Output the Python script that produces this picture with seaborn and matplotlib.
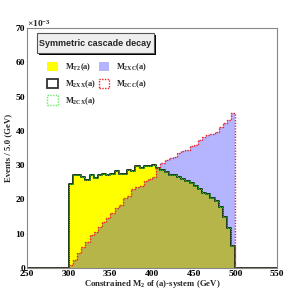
import numpy as np
import matplotlib
matplotlib.use("Agg")
import matplotlib.pyplot as plt
from matplotlib.patches import Patch, Rectangle
from matplotlib.ticker import MultipleLocator
import seaborn as sns

# bin left edges (GeV), 5 GeV bins
bin_lo = [300, 305, 310, 315, 320, 325, 330, 335, 340, 345,
          350, 355, 360, 365, 370, 375, 380, 385, 390, 395,
          400, 405, 410, 415, 420, 425, 430, 435, 440, 445,
          450, 455, 460, 465, 470, 475, 480, 485, 490, 495]

# M_T2 = M_2XX = M_2CX  (x 10^-3)
m_t2 = [24.5, 27.0, 27.0, 26.5, 25.8, 27.0, 26.2, 27.0, 27.4, 27.2,
        27.5, 28.3, 27.4, 27.5, 28.6, 28.3, 29.7, 29.2, 29.8, 29.8,
        30.0, 29.1, 28.6, 28.0, 27.1, 27.0, 26.5, 26.0, 25.5, 24.8,
        24.0, 23.0, 22.0, 21.5, 20.5, 19.5, 17.8, 15.0, 11.8, 6.5]

# M_2XC = M_2CC  (x 10^-3)
m_2xc = [1.0, 2.3, 4.5, 6.0, 7.5, 9.5, 10.5, 12.0, 13.5, 14.5,
         16.0, 17.5, 18.5, 20.5, 21.0, 23.0, 23.5, 24.0, 25.5, 26.0,
         26.5, 29.5, 30.5, 31.5, 32.0, 32.5, 33.5, 34.0, 34.5, 35.5,
         36.0, 37.3, 38.3, 38.8, 39.2, 39.8, 41.2, 42.2, 43.1, 45.1]

labels = ["M$_{T2}$(a)", "M$_{2XX}$(a)", "M$_{2CX}$(a)", "M$_{2XC}$(a)", "M$_{2CC}$(a)"]
title = "Symmetric cascade decay"

sns.set_theme(style="white")
plt.rcParams["font.family"] = ["Liberation Serif", "DejaVu Serif"]
plt.rcParams["font.weight"] = "bold"
plt.rcParams["mathtext.fontset"] = "custom"
plt.rcParams["mathtext.rm"] = "Liberation Serif:bold"
plt.rcParams["mathtext.it"] = "Liberation Serif:bold"
plt.rcParams["mathtext.bf"] = "Liberation Serif:bold"
plt.rcParams["mathtext.default"] = "rm"

centers = np.array(bin_lo) + 2.5
blue_fill = (0.0, 0.0, 1.0, 0.29)

fig = plt.figure(figsize=(2.95, 2.93), dpi=100)
ax = fig.add_axes([27 / 295, 1 - 268 / 293, 250 / 295, 240 / 293])

common = dict(x=centers, binwidth=5, binrange=(250, 550), element="step", ax=ax)
sns.histplot(weights=m_t2, fill=True, color="yellow", alpha=1, linewidth=0, **common)
sns.histplot(weights=m_2xc, fill=True, color=blue_fill, alpha=None, linewidth=0, **common)
sns.histplot(weights=m_t2, fill=False, color="#1f3a1f", linewidth=1.4, **common)
sns.histplot(weights=m_t2, fill=False, color="#33cc33", linewidth=0.7, linestyle=(0, (1, 1)), **common)
sns.histplot(weights=m_2xc, fill=False, color="#ee2222", linewidth=1.0, linestyle=(0, (1, 1)), **common)

ax.set_xlim(250, 550)
ax.set_ylim(0, 70)
ax.xaxis.set_major_locator(MultipleLocator(50))
ax.xaxis.set_minor_locator(MultipleLocator(10))
ax.yaxis.set_major_locator(MultipleLocator(10))
ax.yaxis.set_minor_locator(MultipleLocator(2))
ax.tick_params(which="both", direction="in", colors="#555555", labelcolor="black",
               labelsize=6.8, pad=1.5, top=False, right=False)
ax.tick_params(which="major", length=7, width=0.8)
ax.tick_params(which="minor", length=3.5, width=0.8)
for lab in ax.get_xticklabels() + ax.get_yticklabels():
    lab.set_fontweight("bold")
for s in ax.spines.values():
    s.set_color("#888888")
    s.set_linewidth(0.8)

ax.set_xlabel("Constrained M$_2$ of (a)-system (GeV)", fontsize=6.3, fontweight="bold")
ax.set_ylabel("Events / 5.0 (GeV)", fontsize=6.3, fontweight="bold")
ax.xaxis.set_label_coords(0.5, -0.04)
ax.yaxis.set_label_coords(-0.058, 0.5)
ax.text(0.0, 0.995, "$\\times$10$^{-3}$", transform=ax.transAxes, fontsize=6.8,
        ha="left", va="bottom")

# title box with shadow
ax.add_patch(Rectangle((0.048, 0.888), 0.468, 0.083, transform=ax.transAxes,
                       facecolor="black", edgecolor="none", clip_on=False, zorder=5))
ax.add_patch(Rectangle((0.04, 0.896), 0.468, 0.083, transform=ax.transAxes,
                       facecolor="#efefef", edgecolor="#555555", linewidth=0.8,
                       clip_on=False, zorder=6))
ax.text(0.274, 0.937, title, transform=ax.transAxes, fontsize=6.5,
        family="Liberation Sans", fontweight="bold", ha="center", va="center", zorder=7)

handles = [
    Patch(facecolor="yellow", edgecolor="none"),
    Patch(facecolor="white", edgecolor="#333333", linewidth=1.3),
    Patch(facecolor="white", edgecolor="#66ee66", linewidth=1.0, linestyle=(0, (1, 1))),
    Patch(facecolor=blue_fill, edgecolor="none"),
    Patch(facecolor="white", edgecolor="#ee2222", linewidth=1.0, linestyle=(0, (1, 1))),
]
ax.legend(handles, labels, loc="upper left", bbox_to_anchor=(0.064, 0.878), ncol=2,
          frameon=False, fontsize=6.0, handlelength=1.25, handleheight=1.35,
          handletextpad=0.85, labelspacing=0.62, columnspacing=0.4, borderpad=0)

fig.savefig("out.png", dpi=100)
